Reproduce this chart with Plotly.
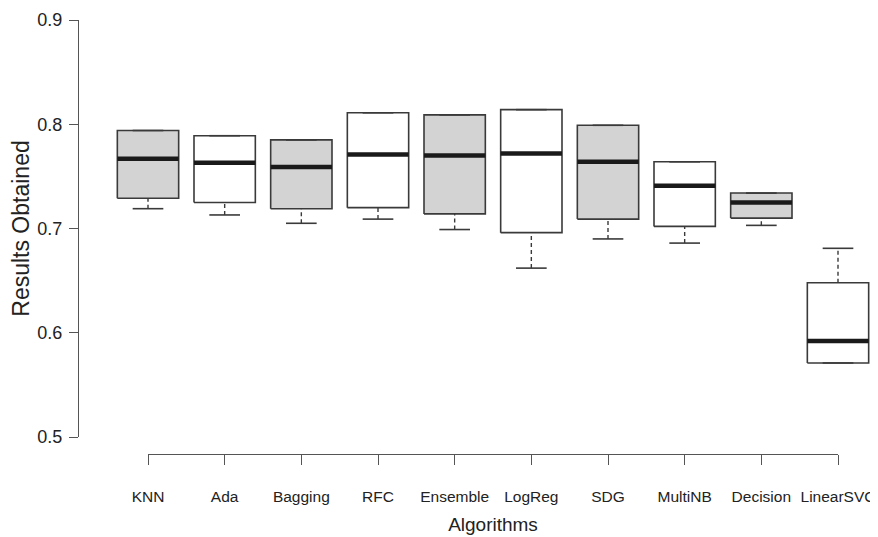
import plotly.graph_objects as go

categories = ["KNN", "Ada", "Bagging", "RFC", "Ensemble", "LogReg", "SDG", "MultiNB", "Decision", "LinearSVC"]
lower_whisker = [0.719, 0.713, 0.705, 0.709, 0.699, 0.662, 0.690, 0.686, 0.703, 0.571]
q1 = [0.729, 0.725, 0.719, 0.720, 0.714, 0.696, 0.709, 0.702, 0.710, 0.571]
median = [0.767, 0.763, 0.759, 0.771, 0.770, 0.772, 0.764, 0.741, 0.725, 0.592]
q3 = [0.794, 0.789, 0.785, 0.811, 0.809, 0.814, 0.799, 0.764, 0.734, 0.648]
upper_whisker = [0.794, 0.789, 0.785, 0.811, 0.809, 0.814, 0.799, 0.764, 0.734, 0.681]
y_ticks = [0.5, 0.6, 0.7, 0.8, 0.9]
y_tick_labels = ["0.5", "0.6", "0.7", "0.8", "0.9"]

OFF = 8                                  # page body margin of the html page
W, H = 878 - OFF, 537 - OFF
axis_x_px, top_px = 79 - OFF, 20 - OFF   # y axis line / 0.9 tick
first_px, last_px = 148 - OFF, 838 - OFF # first / last category tick
y_bottom_px = 437 - OFF                  # 0.5 tick
x_axis_px = 454 - OFF                    # category axis line
ML, MT, MR = axis_x_px, top_px, 0
MB = H - x_axis_px
n = len(categories)
positions = list(range(1, n + 1))
unit = (last_px - first_px) / (n - 1)
paper_w = W - ML - MR
paper_h = H - MT - MB
x_lo = 1 - (first_px - ML) / unit
x_hi = 1 + (W - MR - first_px) / unit

half = 0.4       # half box width (boxwex 0.8)
cap = 0.2        # half staple width
box_line = "#3a3a3a"
fills = ["#d3d3d3" if i % 2 == 0 else "#ffffff" for i in range(n)]

fig = go.Figure()
for i, p in enumerate(positions):
    fig.add_trace(go.Scatter(
        x=[p - half, p + half, p + half, p - half, p - half],
        y=[q1[i], q1[i], q3[i], q3[i], q1[i]],
        mode="lines", fill="toself", fillcolor=fills[i],
        line=dict(color=box_line, width=1.6), hoverinfo="skip", showlegend=False))
    for a, b in ((lower_whisker[i], q1[i]), (q3[i], upper_whisker[i])):
        if b != a:
            fig.add_trace(go.Scatter(x=[p, p], y=[a, b], mode="lines",
                                     line=dict(color=box_line, width=1.4, dash="4px,3px"),
                                     hoverinfo="skip", showlegend=False))
    for v in (lower_whisker[i], upper_whisker[i]):
        fig.add_trace(go.Scatter(x=[p - cap, p + cap], y=[v, v], mode="lines",
                                 line=dict(color=box_line, width=1.6),
                                 hoverinfo="skip", showlegend=False))
    fig.add_trace(go.Scatter(x=[p - half, p + half], y=[median[i], median[i]], mode="lines",
                             line=dict(color="#1a1a1a", width=4.5),
                             hoverinfo="skip", showlegend=False))

fig.add_trace(go.Scatter(x=[], y=[], xaxis="x2", yaxis="y", showlegend=False, hoverinfo="skip"))

sans = "Liberation Sans, Arial, sans-serif"
axis_col = "#555555"
txt = "#222222"

fig.update_layout(
    width=W, height=H,
    margin=dict(l=ML, r=MR, t=MT, b=MB, pad=0),
    paper_bgcolor="white", plot_bgcolor="rgba(0,0,0,0)",
    showlegend=False,
    xaxis=dict(domain=[0, 1], range=[x_lo, x_hi], visible=False, fixedrange=True),
    xaxis2=dict(
        domain=[(first_px - ML) / paper_w, (last_px - ML) / paper_w],
        range=[1, n], anchor="free", position=0,
        showline=True, linecolor=axis_col, linewidth=1.2,
        ticks="outside", ticklen=10, tickwidth=1.2, tickcolor=axis_col,
        tickvals=positions, ticktext=categories, tickangle=0,
        tickfont=dict(family=sans, size=15.5, color=txt),
        ticklabelstandoff=18,
        showgrid=False, zeroline=False, automargin=False,
        title=dict(text="Algorithms", font=dict(family=sans, size=19, color=txt), standoff=13),
    ),
    yaxis=dict(
        domain=[(x_axis_px - y_bottom_px) / paper_h, 1],
        range=[0.5, 0.9], anchor="x",
        showline=True, linecolor=axis_col, linewidth=1.2,
        ticks="outside", ticklen=9, tickwidth=1.2, tickcolor=axis_col,
        tickvals=y_ticks, ticktext=y_tick_labels,
        tickfont=dict(family=sans, size=18, color=txt),
        ticklabelstandoff=3,
        showgrid=False, zeroline=False, automargin=False,
        title=dict(text="Results Obtained", font=dict(family=sans, size=23, color=txt), standoff=16),
    ),
)

fig.write_html("out.html")
